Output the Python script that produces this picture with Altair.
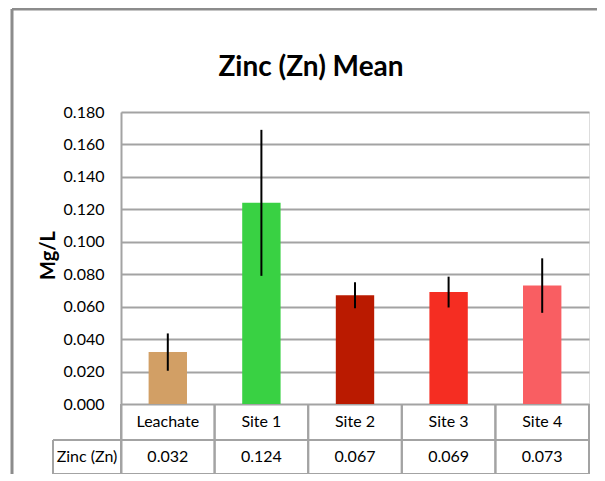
import altair as alt
import pandas as pd

# ---- data ----
categories = ["Leachate", "Site 1", "Site 2", "Site 3", "Site 4"]
means = [0.032, 0.124, 0.067, 0.069, 0.073]
errors = [0.0115, 0.045, 0.008, 0.0095, 0.0168]
colors = ["#D29F65", "#39D143", "#BA1A00", "#F52D22", "#F95E62"]
row_label = "Zinc (Zn)"
y_ticks = [0.000, 0.020, 0.040, 0.060, 0.080, 0.100, 0.120, 0.140, 0.160, 0.180]

FONT = "Lato, sans-serif"
GRID = "#A3A3A3"
FRAME = "#8C8C8C"

# table rows live below zero on the value axis
ROW1 = -0.0222
ROW_BOTTOM = -0.04315
W, H = 468, 362

df = pd.DataFrame({"cat": categories, "mean": means, "err": errors, "color": colors})
df["lo"] = df["mean"] - df["err"]
df["hi"] = df["mean"] + df["err"]

yscale = alt.Scale(domain=[ROW_BOTTOM, 0.18], nice=False, zero=False)
yaxis = alt.Axis(
    values=y_ticks, format=".3f", ticks=False, labelPadding=17,
    labelFont=FONT, labelFontSize=16, labelColor="black",
    domainColor=GRID, domainWidth=2, gridColor=GRID, gridWidth=2,
    title="Mg/L", titleFont=FONT, titleFontSize=20, titleFontWeight="bold",
    titleColor="black", titleAngle=270, titleY=143, titleAlign="center",
    titlePadding=5,
)


def xenc(band_pos=None):
    kw = dict(sort=categories, scale=alt.Scale(paddingInner=0, paddingOuter=0), axis=None, title=None)
    if band_pos is not None:
        kw["bandPosition"] = band_pos
    return alt.X("cat:N", **kw)


base = alt.Chart(df)

bars = base.mark_bar(width={"band": 0.41}).encode(
    x=xenc(),
    y=alt.Y("mean:Q", scale=yscale, axis=yaxis, title="Mg/L"),
    y2=alt.datum(0),
    color=alt.Color("color:N", scale=None, legend=None),
)

err = base.mark_rule(color="black", strokeWidth=2).encode(
    x=xenc(),
    y=alt.Y("lo:Q", scale=yscale, title="Mg/L"),
    y2="hi:Q",
)

cat_text = base.mark_text(font=FONT, fontSize=16, baseline="middle", color="black").encode(
    x=xenc(), y=alt.datum(-0.0111), text="cat:N"
)
val_text = base.mark_text(font=FONT, fontSize=16, baseline="middle", color="black").encode(
    x=xenc(), y=alt.datum(-0.0327), text=alt.Text("mean:Q", format=".3f")
)

vlines_start = base.mark_rule(color=GRID, strokeWidth=2).encode(
    x=xenc(0), y=alt.datum(0), y2=alt.datum(ROW_BOTTOM)
)
vlines_end = base.mark_rule(color=GRID, strokeWidth=2).encode(
    x=xenc(1), y=alt.datum(0), y2=alt.datum(ROW_BOTTOM)
)

hdr = pd.DataFrame({"label": [row_label]})
hchart = alt.Chart(hdr)
hlines = alt.layer(
    hchart.mark_rule(color=GRID, strokeWidth=2).encode(
        x=alt.value(-68), x2=alt.value(W), y=alt.datum(ROW1)),
    hchart.mark_rule(color=GRID, strokeWidth=2).encode(
        x=alt.value(-68), x2=alt.value(W), y=alt.datum(ROW_BOTTOM)),
    hchart.mark_rule(color=GRID, strokeWidth=2).encode(
        x=alt.value(-68), y=alt.datum(ROW1), y2=alt.datum(ROW_BOTTOM)),
)
hdr_text = hchart.mark_text(font=FONT, fontSize=16, baseline="middle", color="black").encode(
    x=alt.value(-34), y=alt.datum(-0.0327), text="label:N"
)

frame = alt.layer(
    hchart.mark_rule(color=FRAME, strokeWidth=3).encode(
        x=alt.value(-109), y=alt.value(-103), y2=alt.value(H)),
    hchart.mark_rule(color=FRAME, strokeWidth=3).encode(
        x=alt.value(-109), x2=alt.value(W + 8), y=alt.value(-103)),
)

chart = alt.layer(
    frame, bars, err, vlines_start, vlines_end, hlines, cat_text, val_text, hdr_text
).properties(
    width=W, height=H,
    title=alt.Title("Zinc (Zn) Mean", font=FONT, fontSize=28, fontWeight="bold",
                    color="black", anchor="middle", dx=-44, offset=-96,
                    baseline="alphabetic"),
    autosize=alt.AutoSizeParams(type="none"),
    padding={"left": 113, "top": 104, "right": 8, "bottom": 0},
).configure_view(stroke=None).configure(background="white")

chart.save("out.html", embed_options={"renderer": "svg", "actions": False})
